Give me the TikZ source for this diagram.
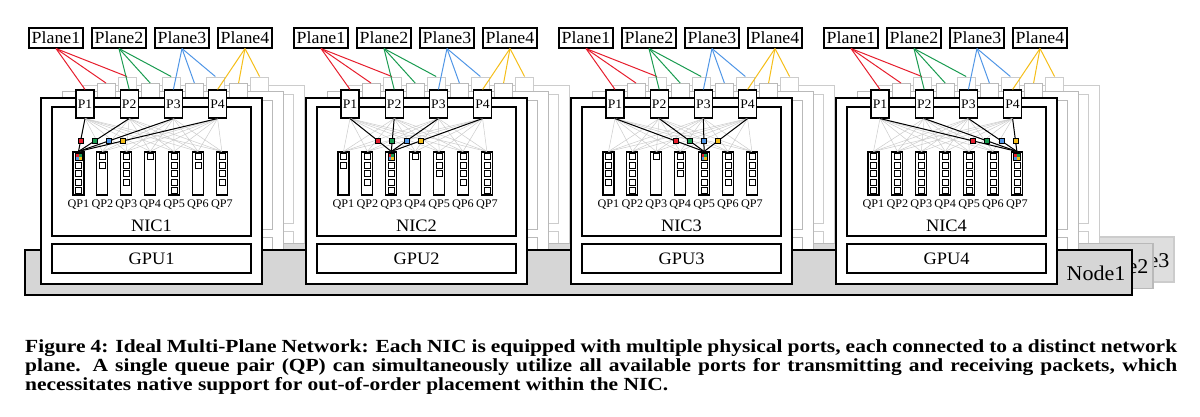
\documentclass[tikz,border=0pt]{standalone}
\usepackage{fontspec}
\setmainfont{Liberation Serif}[FakeStretch=1.05]
\newfontfamily\capfont{Liberation Serif}[FakeStretch=1.16]
\definecolor{pred}{RGB}{230,30,45}
\definecolor{pgreen}{RGB}{25,155,80}
\definecolor{pblue}{RGB}{80,150,230}
\definecolor{pyellow}{RGB}{245,190,25}

\begin{document}
\begin{tikzpicture}[x=1pt, y=-1pt,
	box/.style = {draw, line width=1.1pt, fill=white, inner sep=0pt},
	ghost/.style = {draw, line width=0.9pt, fill=white, inner sep=0pt},
	nodebox/.style = {draw, line width=1.1pt, minimum width=1107pt, minimum height=45pt, inner sep=0pt},
	port/.style = {box, minimum width=18pt, minimum height=28pt, font=\fontsize{13}{13}\selectfont},
	plane/.style = {box, minimum width=54pt, minimum height=20pt, font=\fontsize{17}{17}\selectfont},
	qp/.style = {box, minimum width=11pt, minimum height=43pt},
	slot/.style = {draw, line width=0.6pt, fill=white, minimum size=6pt, inner sep=0pt},
	pkt/.style = {draw, line width=0.5pt, minimum size=5pt, inner sep=0pt},
	mesh/.style = {gray!40, line width=0.5pt},
	link/.style = {line width=1pt},
	txt/.style = {inner sep=0pt, anchor=base, font=\fontsize{17.5}{17.5}\selectfont},
	qptxt/.style = {inner sep=0pt, anchor=base, font=\fontsize{11.6}{11.6}\selectfont},
	nodetxt/.style = {inner sep=0pt, anchor=base, font=\fontsize{21}{21}\selectfont},
	caption/.style = {inner sep=0pt, anchor=north west, text width=1152pt, align=justify, font=\capfont\fontsize{18.5}{19}\selectfont\bfseries}]

	\useasboundingbox (0,0) rectangle (1200,416);

	\foreach \ly/\col/\fil in {2/gray!40/gray!26, 1/gray!55/gray!30} {
		\pgfmathtruncatemacro\nn{\ly+1}
		\node[nodebox, draw=\col, fill=\fil] (n\ly) at ({578.5+21*\ly}, {272.5-6.5*\ly}) {};
		\node[nodetxt] (t\ly) at ({1098+21*\ly}, {280-6.5*\ly}) {Node\nn};
		\foreach \i in {0,...,3} {
			\pgfmathsetmacro\ox{41+265*\i+21*\ly}
			\pgfmathsetmacro\oy{-6.5*\ly}
			\node[ghost, draw=\col, minimum width=221pt, minimum height=186pt] (o\ly\i) at (\ox+110.5, \oy+191) {};
			\node[ghost, draw=\col, minimum width=199pt, minimum height=129pt] (c\ly\i) at (\ox+110.5, \oy+171.5) {};
			\node[ghost, draw=\col, minimum width=199pt, minimum height=29pt] (g\ly\i) at (\ox+110.5, \oy+258.5) {};
			\foreach \k in {1,...,4}
				\node[ghost, draw=\col, minimum width=18pt, minimum height=28pt] (p\ly\i\k) at (\ox+44+44.2*\k-44.2, \oy+104) {};
		}
	}

	\node[nodebox, fill=gray!32] (n0) at (578.5, 272.5) {};
	\node[nodetxt] (t0) at (1096, 280) {Node1};

	\foreach \i/\tq/\cnt in {0/1/{5,2,4,1,5,2,4}, 1/3/{2,4,5,1,3,4,5}, 2/5/{4,5,1,3,5,4,4}, 3/7/{5,5,5,5,5,5,5}} {
		\pgfmathsetmacro\ox{41+265*\i}
		\pgfmathtruncatemacro\nn{\i+1}
		\node[box, minimum width=221pt, minimum height=186pt] (o0\i) at (\ox+110.5, 191) {};
		\node[box, minimum width=199pt, minimum height=129pt] (c0\i) at (\ox+110.5, 171.5) {};
		\node[box, minimum width=199pt, minimum height=29pt] (g0\i) at (\ox+110.5, 258.5) {};
		\node[txt] (ct\i) at (\ox+110.5, 231) {NIC\nn};
		\node[txt] (gt\i) at (\ox+110.5, 264) {GPU\nn};
		\foreach \k in {1,...,4}
			\node[port] (p0\i\k) at (\ox+44+44.2*\k-44.2, 104) {P\k};
		\foreach \nq [count=\j] in \cnt {
			\pgfmathsetmacro\qx{\ox+37.5+23.9*\j-23.9}
			\node[qp] (q\i\j) at (\qx, 173.5) {};
			\node[qptxt] (qt\i\j) at (\qx, 207.5) {QP\j};
			\foreach \m in {1,...,\nq} {
				\ifnum\j=\tq\relax \ifnum\m=1
					\node[slot] (h\i) at (\qx, 156.5) {};
					\fill[pred] (h\i.north west) rectangle (h\i.center);
					\fill[pgreen] (h\i.north east) rectangle (h\i.center);
					\fill[pblue] (h\i.south west) rectangle (h\i.center);
					\fill[pyellow] (h\i.south east) rectangle (h\i.center);
					\draw[line width=0.6pt] (h\i.north west) rectangle (h\i.south east);
				\else
					\node[slot] (s\i\j\m) at (\qx, {156.5+8.5*\m-8.5}) {};
				\fi \else
					\node[slot] (s\i\j\m) at (\qx, {156.5+8.5*\m-8.5}) {};
				\fi
			}
		}
		\foreach \k in {1,...,4}
			\foreach \j in {1,...,7}
				\draw[mesh] (p0\i\k.south) -- (q\i\j.north);
		\foreach \k/\col in {1/pred, 2/pgreen, 3/pblue, 4/pyellow}
			\draw[link] (p0\i\k.south) -- (q\i\tq.north) node[pkt, fill=\col, pos=0.68] (k\i\k) {};
		\foreach \k/\col in {1/pred, 2/pgreen, 3/pblue, 4/pyellow} {
			\node[plane] (l\i\k) at (\ox+15+63*\k-63, 38) {Plane\k};
			\foreach \ly in {0,1,2}
				\draw[link, \col] (l\i\k.south) -- (p\ly\i\k.north);
		}
	}

	\node[caption] (cap) at (25, 339.5) {Figure 4: Ideal Multi-Plane Network: Each NIC is equipped with multiple physical ports, each connected to a distinct network\linebreak plane. A single queue pair (QP) can simultaneously utilize all available ports for transmitting and receiving packets, which\linebreak necessitates native support for out-of-order placement within the NIC.};
\end{tikzpicture}
\end{document}
